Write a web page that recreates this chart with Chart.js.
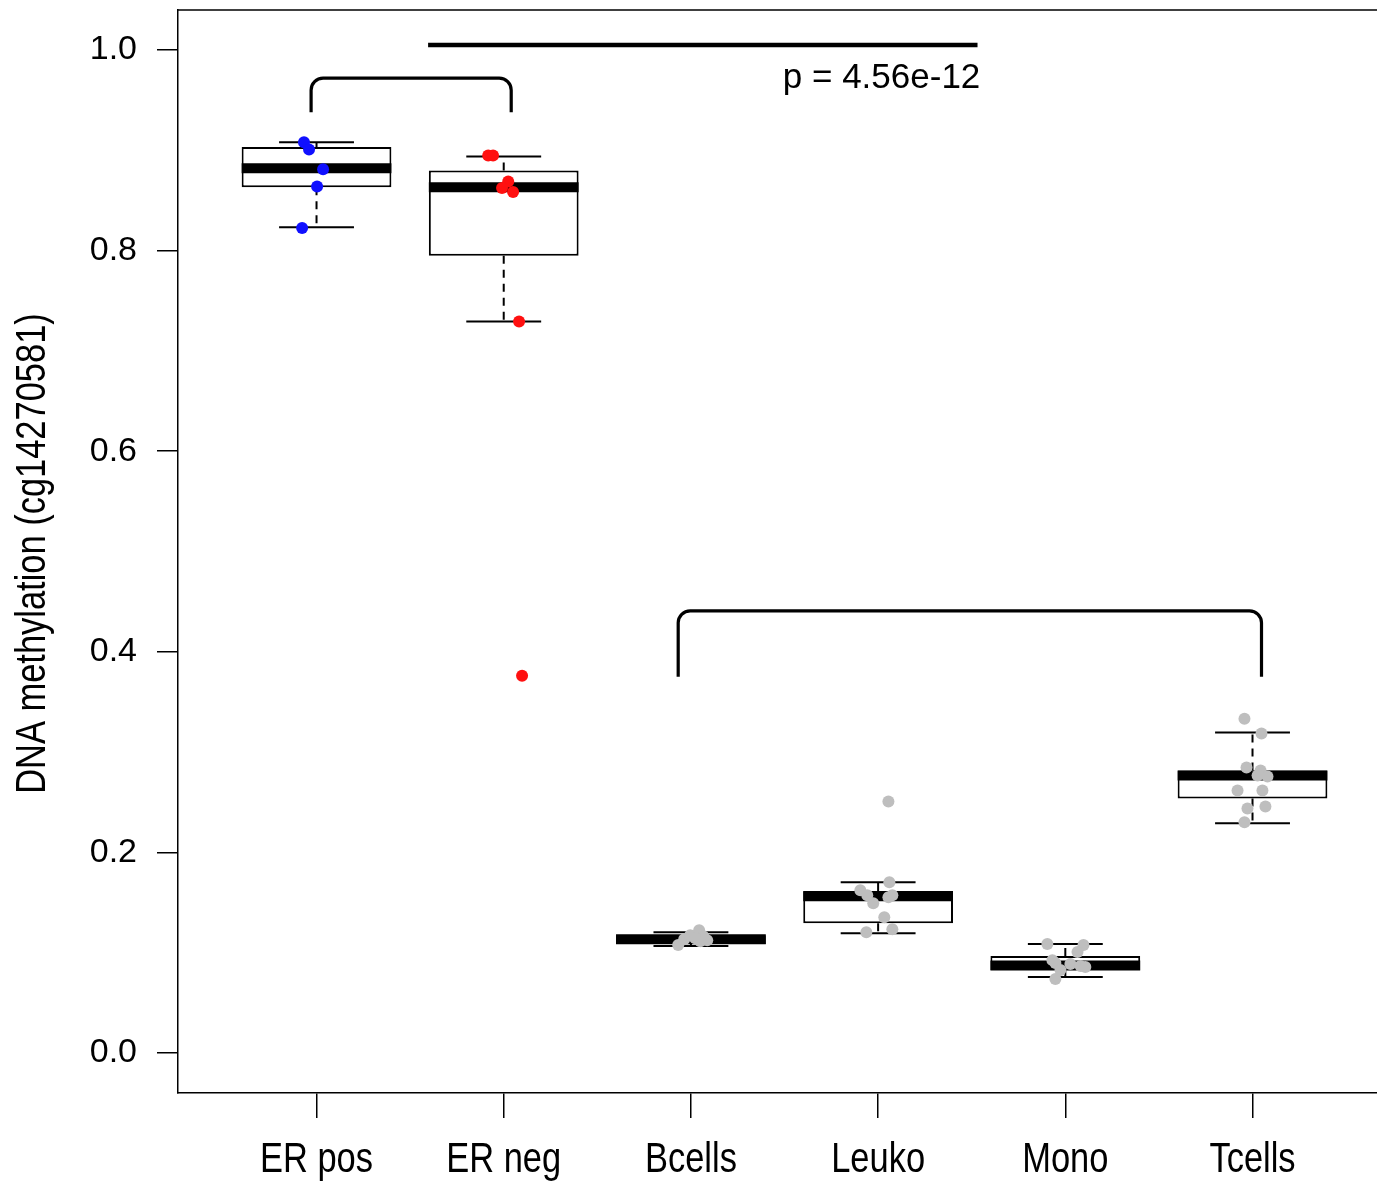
<!DOCTYPE html>
<html>
<head>
<meta charset="utf-8">
<script src="https://cdn.jsdelivr.net/npm/chart.js@4.4.1/dist/chart.umd.min.js"></script>
<style>
  html, body { margin: 0; padding: 0; background: #fff; }
  #wrap { width: 1377px; height: 1186px; }
</style>
</head>
<body>
<div id="wrap"><canvas id="chart" width="1377" height="1186"></canvas></div>
<script>
// groups on the x axis
var categories = ['ER pos', 'ER neg', 'Bcells', 'Leuko', 'Mono', 'Tcells'];
var xTickValues = [1, 2, 3, 4, 5, 6];
var yTickValues = [0, 0.2, 0.4, 0.6, 0.8, 1.0];
var yTitle = 'DNA methylation (cg14270581)';

// box statistics per group
var whiskerLow  = [0.8234, 0.7294, 0.1065, 0.1194, 0.0756, 0.2289];
var q1          = [0.8632, 0.7950, 0.1085, 0.1294, 0.0826, 0.2537];
var medians     = [0.8821, 0.8632, 0.1134, 0.1562, 0.0871, 0.2766];
var q3          = [0.9035, 0.8799, 0.1174, 0.1615, 0.0965, 0.2816];
var whiskerHigh = [0.9080, 0.8938, 0.1204, 0.1701, 0.1085, 0.3194];

// individual samples (value + horizontal jitter)
var erPosValues = [0.908, 0.901, 0.8813, 0.864, 0.8226];
var erPosJitter = [-0.067, -0.04, 0.035, 0.003, -0.077];
var erNegValues = [0.8948, 0.8948, 0.869, 0.8624, 0.8584, 0.7294, 0.3761];
var erNegJitter = [-0.083, -0.057, 0.024, -0.009, 0.05, 0.082, 0.098];
var bcellValues = [0.1075, 0.1134, 0.1174, 0.1224, 0.1164, 0.1124, 0.1114, 0.1144];
var bcellJitter = [-0.068, -0.036, -0.004, 0.044, 0.066, 0.087, 0.05, 0.023];
var leukoValues = [0.2507, 0.1701, 0.1622, 0.1572, 0.1493, 0.1552, 0.1572, 0.1353, 0.1234, 0.1204];
var leukoJitter = [0.055, 0.06, -0.095, -0.058, -0.026, 0.055, 0.076, 0.033, 0.076, -0.063];
var monoValues  = [0.1085, 0.1075, 0.1005, 0.0925, 0.0896, 0.0886, 0.0866, 0.0856, 0.0826, 0.0736];
var monoJitter  = [-0.096, 0.097, 0.065, -0.069, -0.053, 0.027, 0.081, 0.107, -0.026, -0.053];
var tcellValues = [0.3333, 0.3184, 0.2846, 0.2816, 0.2766, 0.2756, 0.2617, 0.2617, 0.2438, 0.2458, 0.2299];
var tcellJitter = [-0.043, 0.048, -0.032, 0.043, 0.027, 0.08, -0.08, 0.053, -0.027, 0.069, -0.043];

// significance annotations
var bracketFrom = [0.971, 2.932];
var bracketTo   = [2.04, 6.048];
var bracketTop  = [0.972, 0.4408];
var bracketFoot = [0.938, 0.3751];
var pLineFrom = 1.596, pLineTo = 4.531, pLineY = 1.005;
var pLabel = 'p = 4.56e-12', pLabelX = 4.546, pLabelY = 0.972;

var sansFont = '"Liberation Sans", Arial, Helvetica, sans-serif';

function samples(groupIndex, values, jitter) {
    return values.map(function (v, i) {
        return { x: groupIndex + 1 + jitter[i], y: v };
    });
}

function pointSet(values, jitter, groupIndex, color) {
    return {
        type: 'scatter',
        data: samples(groupIndex, values, jitter),
        backgroundColor: color,
        borderWidth: 0,
        pointRadius: 6,
        pointHoverRadius: 6
    };
}

var boxData = categories.map(function (c, i) {
    return { x: i + 1, y: [q1[i], q3[i]] };
});

function noPadding(scale) {
    scale.paddingTop = 0;
    scale.paddingBottom = 0;
    scale.paddingLeft = 0;
    scale.paddingRight = 0;
}

// whiskers, staples and medians, drawn right after the boxes
var boxPartsPlugin = {
    id: 'boxParts',
    afterDatasetDraw: function (chart, args) {
        if (args.meta.type !== 'bar') return;
        var ctx = chart.ctx, xs = chart.scales.x, ys = chart.scales.y;
        ctx.save();
        ctx.strokeStyle = '#000';
        for (var i = 0; i < categories.length; i++) {
            var cx = xs.getPixelForValue(i + 1);
            var half = xs.getPixelForValue(i + 1.4) - cx;
            var capHalf = xs.getPixelForValue(i + 1.2) - cx;
            ctx.lineWidth = 2;
            ctx.setLineDash([8, 6]);
            ctx.beginPath();
            ctx.moveTo(cx, ys.getPixelForValue(q3[i]));
            ctx.lineTo(cx, ys.getPixelForValue(whiskerHigh[i]));
            ctx.moveTo(cx, ys.getPixelForValue(q1[i]));
            ctx.lineTo(cx, ys.getPixelForValue(whiskerLow[i]));
            ctx.stroke();
            ctx.setLineDash([]);
            ctx.beginPath();
            ctx.moveTo(cx - capHalf, ys.getPixelForValue(whiskerHigh[i]));
            ctx.lineTo(cx + capHalf, ys.getPixelForValue(whiskerHigh[i]));
            ctx.moveTo(cx - capHalf, ys.getPixelForValue(whiskerLow[i]));
            ctx.lineTo(cx + capHalf, ys.getPixelForValue(whiskerLow[i]));
            ctx.stroke();
            ctx.lineWidth = 10;
            ctx.lineCap = 'butt';
            ctx.beginPath();
            ctx.moveTo(cx - half, ys.getPixelForValue(medians[i]));
            ctx.lineTo(cx + half, ys.getPixelForValue(medians[i]));
            ctx.stroke();
        }
        ctx.restore();
    }
};

function bracket(ctx, x0, x1, yTop, yFoot, r) {
    ctx.beginPath();
    ctx.moveTo(x0, yFoot);
    ctx.arcTo(x0, yTop, x1, yTop, r);
    ctx.arcTo(x1, yTop, x1, yFoot, r);
    ctx.lineTo(x1, yFoot);
    ctx.stroke();
}

// condensed text (R's narrow Helvetica) for the group names and the y title
function narrowText(ctx, text, x, y, rotation, size) {
    ctx.save();
    ctx.translate(x, y);
    ctx.rotate(rotation);
    ctx.scale(0.82, 1);
    ctx.font = size + 'px ' + sansFont;
    ctx.fillStyle = '#000';
    ctx.textAlign = 'center';
    ctx.textBaseline = 'middle';
    ctx.fillText(text, 0, 0);
    ctx.restore();
}

var annotatePlugin = {
    id: 'annotate',
    afterDraw: function (chart) {
        var ctx = chart.ctx, xs = chart.scales.x, ys = chart.scales.y, area = chart.chartArea;
        ctx.save();
        ctx.strokeStyle = '#000';
        // top side of the frame
        ctx.lineWidth = 1.5;
        ctx.beginPath();
        ctx.moveTo(area.left, area.top);
        ctx.lineTo(area.right, area.top);
        ctx.stroke();

        ctx.lineWidth = 3.2;
        for (var i = 0; i < bracketFrom.length; i++) {
            bracket(ctx, xs.getPixelForValue(bracketFrom[i]), xs.getPixelForValue(bracketTo[i]),
                ys.getPixelForValue(bracketTop[i]), ys.getPixelForValue(bracketFoot[i]), 12);
        }
        ctx.lineWidth = 4.5;
        ctx.beginPath();
        ctx.moveTo(xs.getPixelForValue(pLineFrom), ys.getPixelForValue(pLineY));
        ctx.lineTo(xs.getPixelForValue(pLineTo), ys.getPixelForValue(pLineY));
        ctx.stroke();

        ctx.fillStyle = '#000';
        ctx.font = '35px ' + sansFont;
        ctx.textAlign = 'right';
        ctx.textBaseline = 'middle';
        ctx.fillText(pLabel, xs.getPixelForValue(pLabelX), ys.getPixelForValue(pLabelY));
        ctx.restore();

        // group names under the x ticks
        xs.ticks.forEach(function (tick, i) {
            var label = categories[tick.value - 1];
            narrowText(ctx, label, xs.getPixelForTick(i), xs.bottom - 26, 0, 42);
        });
        narrowText(ctx, yTitle, 33, (ys.top + ys.bottom) / 2 + 2, -Math.PI / 2, 42);
    }
};

new Chart(document.getElementById('chart'), {
    type: 'bar',
    data: {
        datasets: [
            pointSet(erPosValues, erPosJitter, 0, '#1010ff'),
            pointSet(erNegValues, erNegJitter, 1, '#ff1010'),
            pointSet(bcellValues, bcellJitter, 2, '#bebebe'),
            pointSet(leukoValues, leukoJitter, 3, '#bebebe'),
            pointSet(monoValues, monoJitter, 4, '#bebebe'),
            pointSet(tcellValues, tcellJitter, 5, '#bebebe'),
            {
                type: 'bar',
                data: boxData,
                backgroundColor: '#fff',
                borderColor: '#000',
                borderWidth: 2,
                borderSkipped: false,
                categoryPercentage: 1,
                barPercentage: 0.8
            }
        ]
    },
    options: {
        responsive: false,
        animation: false,
        layout: { autoPadding: false, padding: { top: 10, left: 0, right: 0, bottom: 0 } },
        plugins: { legend: { display: false }, tooltip: { enabled: false } },
        scales: {
            x: {
                type: 'linear',
                min: 0.26,
                max: 6.665,
                offset: false,
                afterBuildTicks: function (scale) {
                    scale.ticks = xTickValues.map(function (v) { return { value: v }; });
                },
                afterFit: function (scale) { scale.height = 93; noPadding(scale); },
                ticks: { display: false, autoSkip: false },
                grid: { offset: false, drawOnChartArea: false, drawTicks: true, tickLength: 25, color: '#000', lineWidth: 1.5 },
                border: { display: true, color: '#000', width: 1.5 }
            },
            y: {
                type: 'linear',
                min: -0.04,
                max: 1.04,
                afterBuildTicks: function (scale) {
                    scale.ticks = yTickValues.map(function (v) { return { value: v }; });
                },
                afterFit: function (scale) { scale.width = 178; noPadding(scale); },
                ticks: {
                    color: '#000',
                    padding: 20,
                    font: { family: sansFont, size: 34 },
                    callback: function (value) { return value.toFixed(1); }
                },
                grid: { drawOnChartArea: false, drawTicks: true, tickLength: 21, color: '#000', lineWidth: 1.5 },
                border: { display: true, color: '#000', width: 1.5 }
            }
        }
    },
    plugins: [boxPartsPlugin, annotatePlugin]
});
</script>
</body>
</html>
